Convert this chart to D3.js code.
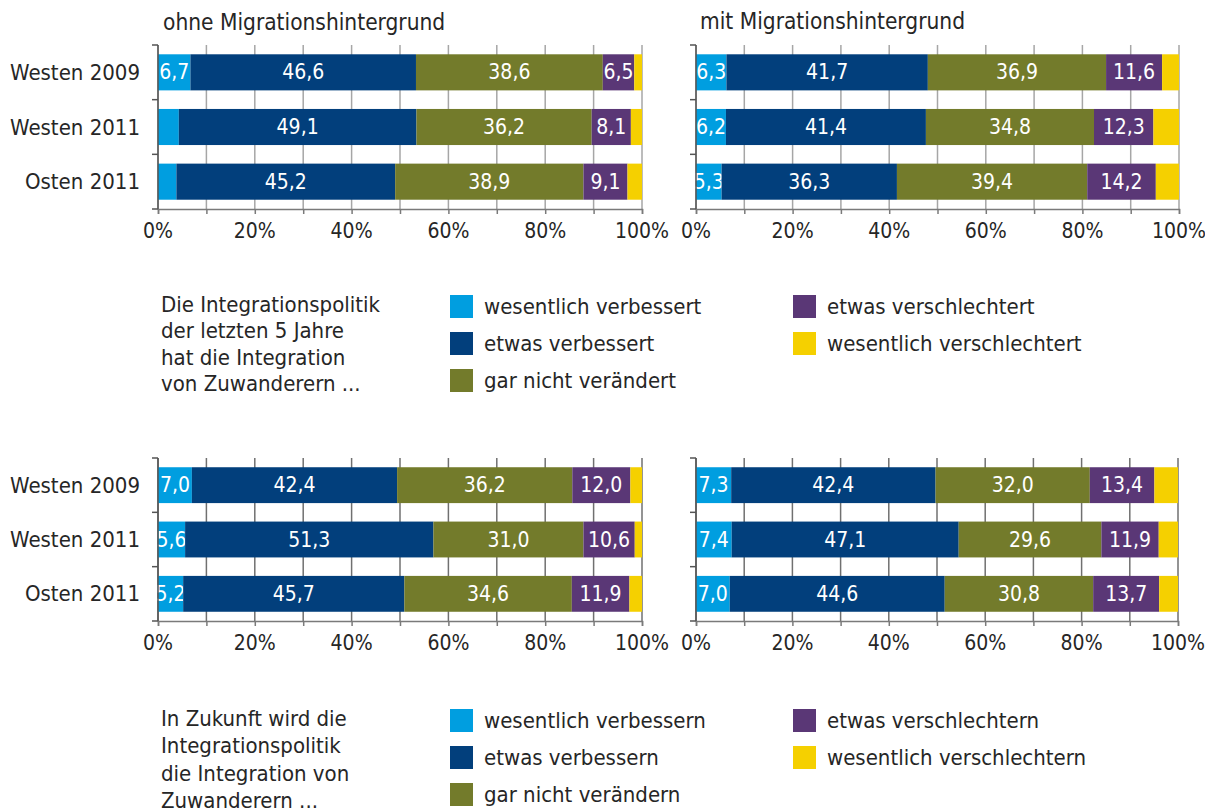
<!DOCTYPE html>
<html><head><meta charset="utf-8">
<script src="https://cdn.jsdelivr.net/npm/d3@7"></script>
<style>
body{margin:0;background:#fff;}
svg text{font-family:"Liberation Sans Narrow","DejaVu Sans Condensed",sans-serif;fill:#262626;}
</style></head>
<body><svg id="c" width="1205" height="812"></svg>
<script>
const categories = ["Westen 2009", "Westen 2011", "Osten 2011"];
const seriesPast = ["wesentlich verbessert", "etwas verbessert", "gar nicht verändert", "etwas verschlechtert", "wesentlich verschlechtert"];
const seriesFuture = ["wesentlich verbessern", "etwas verbessern", "gar nicht verändern", "etwas verschlechtern", "wesentlich verschlechtern"];
const colors = ["#009ee0", "#023f7c", "#737b2b", "#5a3776", "#f5d000"];
const panelTitles = ["ohne Migrationshintergrund", "mit Migrationshintergrund"];
const tickValues = [0, 20, 40, 60, 80, 100];
const gridValues = [0, 10, 20, 30, 40, 50, 60, 70, 80, 90, 100];

// values per category row: [wesentlich verb., etwas verb., gar nicht, etwas verschl., wesentlich verschl.]
const pastOhne = [[6.7, 46.6, 38.6, 6.5, 1.6], [4.3, 49.1, 36.2, 8.1, 2.3], [3.8, 45.2, 38.9, 9.1, 3.0]];
const pastMit = [[6.3, 41.7, 36.9, 11.6, 3.5], [6.2, 41.4, 34.8, 12.3, 5.3], [5.3, 36.3, 39.4, 14.2, 4.8]];
const futureOhne = [[7.0, 42.4, 36.2, 12.0, 2.4], [5.6, 51.3, 31.0, 10.6, 1.5], [5.2, 45.7, 34.6, 11.9, 2.6]];
const futureMit = [[7.3, 42.4, 32.0, 13.4, 4.9], [7.4, 47.1, 29.6, 11.9, 4.0], [7.0, 44.6, 30.8, 13.7, 3.9]];

const legendTextPast = ["Die Integrationspolitik", "der letzten 5 Jahre", "hat die Integration", "von Zuwanderern ..."];
const legendTextFuture = ["In Zukunft wird die", "Integrationspolitik", "die Integration von", "Zuwanderern ..."];

const svg = d3.select("#c");
const fmt = v => v.toFixed(1).replace(".", ",");

function panel(data, x0, x1, yTop, yBot, showCats, gridColor) {
  const x = d3.scaleLinear().domain([0, 100]).range([x0, x1]);
  const y = d3.scaleBand().domain(categories).range([yTop, yBot]).paddingInner(0.34).paddingOuter(0.17);
  const g = svg.append("g");
  g.selectAll("line.grid").data(gridValues).join("line")
    .attr("x1", d => x(d)).attr("x2", d => x(d)).attr("y1", yTop).attr("y2", yBot)
    .attr("stroke", gridColor).attr("stroke-width", 1.5);
  data.forEach((row, i) => {
    let cum = 0;
    row.forEach((v, j) => {
      const start = cum; cum += v;
      g.append("rect").attr("x", x(start)).attr("width", x(cum) - x(start))
        .attr("y", y(categories[i])).attr("height", y.bandwidth()).attr("fill", colors[j]);
      if (j < 4 && v >= 5) {
        g.append("text").attr("x", (x(start) + x(cum)) / 2).attr("y", y(categories[i]) + y.bandwidth() / 2)
          .attr("text-anchor", "middle").attr("dominant-baseline", "central")
          .style("fill", "#fff").style("font-size", "21px").text(fmt(v));
      }
    });
  });
  const ax = d3.axisBottom(x).tickValues(gridValues).tickSize(5).tickFormat("");
  const axG = g.append("g").attr("transform", `translate(0,${yBot})`).call(ax);
  axG.select(".domain").attr("stroke", "#7a7a7a").attr("stroke-width", 1.5);
  axG.selectAll(".tick line").attr("stroke", "#7a7a7a").attr("stroke-width", 1.5);
  g.selectAll("text.tl").data(tickValues).join("text").attr("class", "tl")
    .attr("x", d => x(d)).attr("y", yBot + 22).attr("text-anchor", "middle").attr("dominant-baseline", "central")
    .style("font-size", "21px").text(d => d + "%");
  g.append("line").attr("x1", x0).attr("x2", x0).attr("y1", yTop).attr("y2", yBot)
    .attr("stroke", "#555").attr("stroke-width", 1.5);
  const step = y.step();
  const bounds = [0, 1, 2, 3].map(k => yTop + k * step);
  g.selectAll("line.lt").data(bounds).join("line").attr("class", "lt")
    .attr("x1", x0 - 6).attr("x2", x0).attr("y1", d => d).attr("y2", d => d)
    .attr("stroke", "#555").attr("stroke-width", 1.5);
  if (showCats) {
    g.selectAll("text.cat").data(categories).join("text").attr("class", "cat")
      .attr("x", x0 - 18).attr("y", d => y(d) + y.bandwidth() / 2)
      .attr("text-anchor", "end").attr("dominant-baseline", "central")
      .style("font-size", "22px").text(d => d);
  }
}

panel(pastOhne, 158, 642, 45, 209, true, "#a6a6a6");
panel(pastMit, 696, 1179, 45, 209, false, "#a6a6a6");
panel(futureOhne, 158, 642, 458, 621, true, "#707070");
panel(futureMit, 696, 1178, 458, 621, false, "#707070");

svg.append("text").attr("x", 163).attr("y", 22).attr("dominant-baseline", "central").style("font-size", "22.5px").text(panelTitles[0]);
svg.append("text").attr("x", 700).attr("y", 21).attr("dominant-baseline", "central").style("font-size", "22.5px").text(panelTitles[1]);

function legend(series, textLines, yTop, textTop, lineH) {
  const g = svg.append("g");
  textLines.forEach((t, i) => {
    g.append("text").attr("x", 161).attr("y", textTop + i * lineH).attr("dominant-baseline", "central")
      .style("font-size", "22px").text(t);
  });
  const pos = [[450, 0], [450, 1], [450, 2], [793, 0], [793, 1]];
  series.forEach((s, j) => {
    const [lx, r] = pos[j];
    const yy = yTop + r * 37;
    g.append("rect").attr("x", lx).attr("y", yy).attr("width", 23).attr("height", 23).attr("fill", colors[j]);
    g.append("text").attr("x", lx + 34).attr("y", yy + 11).attr("dominant-baseline", "central")
      .style("font-size", "22px").text(s);
  });
}
legend(seriesPast, legendTextPast, 295, 304, 26.5);
legend(seriesFuture, legendTextFuture, 709, 718, 27.5);
</script></body></html>
